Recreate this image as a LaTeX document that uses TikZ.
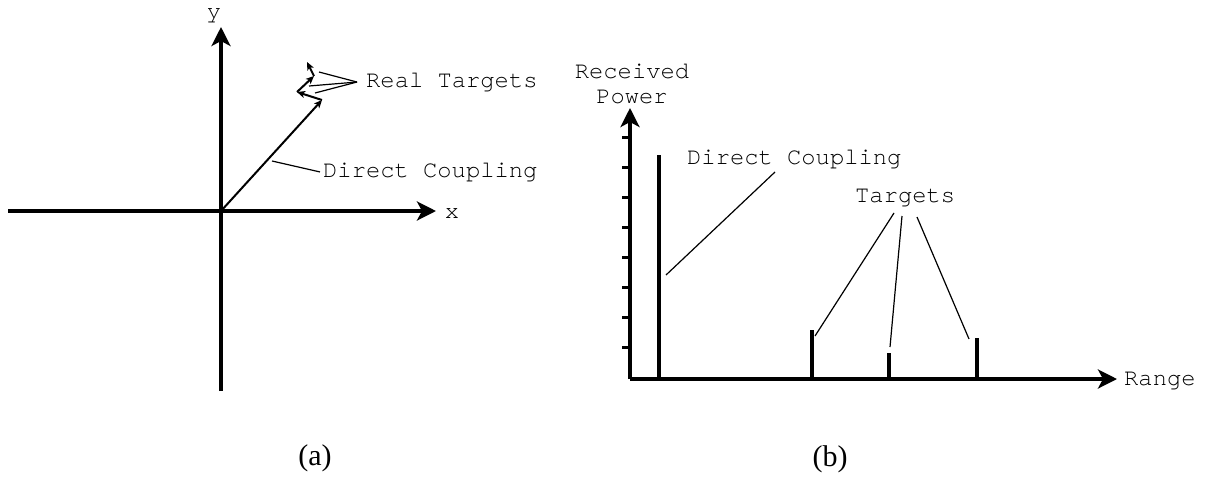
\documentclass[tikz,border=0pt]{standalone}
\usepackage{fontspec}
\setmainfont{Liberation Serif}
\setmonofont{TeX Gyre Cursor}
\usetikzlibrary{arrows.meta}
\begin{document}
\begin{tikzpicture}[x=1pt, y=-1pt,
        axis/.style={line width=4.5pt, -{Stealth[length=19pt,width=19pt,inset=5pt]}},
        spike/.style={line width=3.3pt},
        tick/.style={line width=3pt},
        vec/.style={line width=2pt, -{Stealth[length=8pt,width=7pt,inset=2pt]}},
        lead/.style={line width=1.2pt},
        lbl/.style={inner sep=0pt, font=\ttfamily\fontsize{23.8}{25}\selectfont},
        subcap/.style={inner sep=0pt, font=\fontsize{30}{32}\selectfont}]
        \useasboundingbox (0,0) rectangle (1207,477);
        % (a) vectors
        \coordinate (O) at (221,211);
        \draw[axis] (8,211) -- (436,211);
        \draw[axis] (221,391) -- (221,27);
        \node[lbl, anchor=base] (xl) at (452,218) {x};
        \node[lbl] (yl) at (214,16) {y};
        \coordinate (p1) at (322,100);
        \coordinate (p2) at (297,92);
        \coordinate (p3) at (314,76);
        \coordinate (p4) at (307,62);
        \draw[vec] (O) -- (p1);
        \draw[vec] (p1) -- (p2);
        \draw[vec] (p2) -- (p3);
        \draw[vec] (p3) -- (p4);
        \node[lbl, inner xsep=9pt, anchor=base west] (rt) at (357,87) {Real Targets};
        \draw[lead] (rt.west) -- (319,72);
        \draw[lead] (rt.west) -- (309,86);
        \draw[lead] (rt.west) -- (315,93);
        \node[lbl, inner xsep=3pt, anchor=base west] (dca) at (320,177) {Direct Coupling};
        \draw[lead] (dca.west) -- (272,161);
        \node[subcap] (a) at (315,458) {(a)};
        % (b) range profile
        \coordinate (O2) at (630,379);
        \draw[axis] (O2) -- (1117,379);
        \draw[axis] (O2) -- (630,108);
        \foreach \y in {137,167,...,347}
            \draw[tick] (622,\y) -- (630,\y);
        \node[lbl, align=center] (rp) at (632,84) {Received\\Power};
        \node[lbl, anchor=base west] (rg) at (1124,385) {Range};
        \draw[spike] (659,379) -- (659,155);
        \draw[spike] (812,379) -- (812,330);
        \draw[spike] (889,379) -- (889,353);
        \draw[spike] (977,379) -- (977,338);
        \node[lbl, anchor=base west] (dcb) at (687,164) {Direct Coupling};
        \draw[lead] (775,172) -- (666,275);
        \node[lbl, anchor=base west] (tg) at (855,202) {Targets};
        \draw[lead] (894,213) -- (815,336);
        \draw[lead] (902,216) -- (890,347);
        \draw[lead] (917,217) -- (969,339);
        \node[subcap] (b) at (830,459) {(b)};
    \end{tikzpicture}
\end{document}
